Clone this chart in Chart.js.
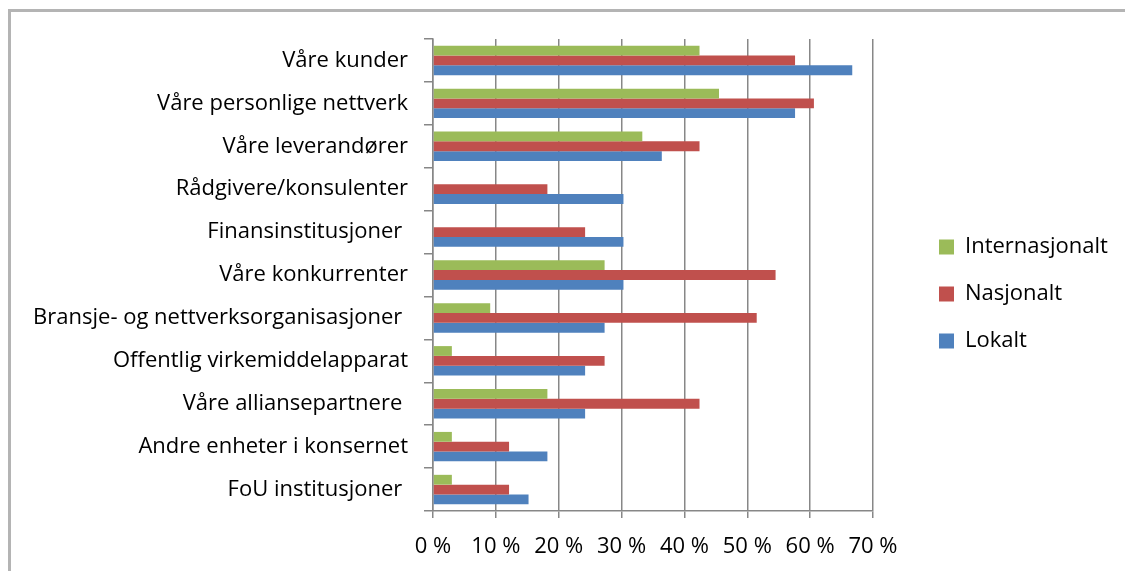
<!DOCTYPE html>
<html>
<head>
<meta charset="utf-8">
<script src="https://cdn.jsdelivr.net/npm/chart.js@4.4.0/dist/chart.umd.min.js"></script>
<style>
  html, body { margin: 0; padding: 0; background: #fff; overflow: hidden; }
  #frame { position: absolute; left: 8px; top: 9px; width: 2000px; height: 2000px;
           border-top: 3px solid #b4b4b4; border-left: 3px solid #b4b4b4; }
  #myChart { position: absolute; left: 0; top: 0; }
</style>
</head>
<body>
<div id="frame"></div>
<canvas id="myChart" width="1125" height="571"></canvas>
<script>
// data (share of answers, %)
const categories = [
    'Våre kunder',
    'Våre personlige nettverk',
    'Våre leverandører',
    'Rådgivere/konsulenter',
    'Finansinstitusjoner ',
    'Våre konkurrenter',
    'Bransje- og nettverksorganisasjoner ',
    'Offentlig virkemiddelapparat',
    'Våre alliansepartnere ',
    'Andre enheter i konsernet',
    'FoU institusjoner '
]
const internasjonalt = [42.4, 45.5, 33.3, 0, 0, 27.3, 9.1, 3.0, 18.2, 3.0, 3.0]
const nasjonalt = [57.6, 60.6, 42.4, 18.2, 24.2, 54.5, 51.5, 27.3, 42.4, 12.1, 12.1]
const lokalt = [66.7, 57.6, 36.4, 30.3, 30.3, 30.3, 27.3, 24.2, 24.2, 18.2, 15.2]
const xTickLabels = ['0 %', '10 %', '20 %', '30 %', '40 %', '50 %', '60 %', '70 %']

const font = { family: 'Open Sans', size: 22 }
const gridGrey = '#878787'

// move the legend out to the right of the plot
const legendPlace = {
    id: 'legendPlace',
    afterLayout(chart) {
        const lg = chart.legend
        const h = lg.bottom - lg.top
        lg.left = 914
        lg.right = lg.left + lg.width
        lg.top = 58
        lg.bottom = 58 + h
    }
}

const ctx = document.getElementById('myChart').getContext('2d')
let graph = new Chart(ctx, {
    type: 'bar',
    data: {
        labels: categories,
        datasets: [
            { label: 'Internasjonalt', data: internasjonalt, backgroundColor: '#9BBB59' },
            { label: 'Nasjonalt', data: nasjonalt, backgroundColor: '#C0504D' },
            { label: 'Lokalt', data: lokalt, backgroundColor: '#4F81BD' }
        ]
    },
    options: {
        indexAxis: 'y',
        responsive: false,
        animation: false,
        devicePixelRatio: 1,
        categoryPercentage: 0.686,
        barPercentage: 1,
        layout: { padding: { top: 39, left: 0, right: 252, bottom: 0 } },
        plugins: {
            legend: {
                position: 'chartArea',
                labels: { font: font, color: '#000', boxWidth: 15, boxHeight: 15, padding: 25 }
            },
            tooltip: { enabled: false }
        },
        scales: {
            x: {
                min: 0,
                max: 70,
                ticks: {
                    stepSize: 10,
                    font: font,
                    color: '#000',
                    padding: 16,
                    callback: (v, i) => xTickLabels[i]
                },
                grid: { color: gridGrey, lineWidth: 1.5, tickLength: 7 },
                border: { color: gridGrey, width: 1.5 },
                afterFit: (s) => { s.height = 60 }
            },
            y: {
                ticks: { font: font, color: '#000', padding: 16 },
                grid: { drawOnChartArea: false, offset: true, color: gridGrey, lineWidth: 1.5, tickLength: 9 },
                border: { color: gridGrey, width: 1.5 },
                afterFit: (s) => { s.width = 433 }
            }
        }
    },
    plugins: [legendPlace]
})
</script>
</body>
</html>
